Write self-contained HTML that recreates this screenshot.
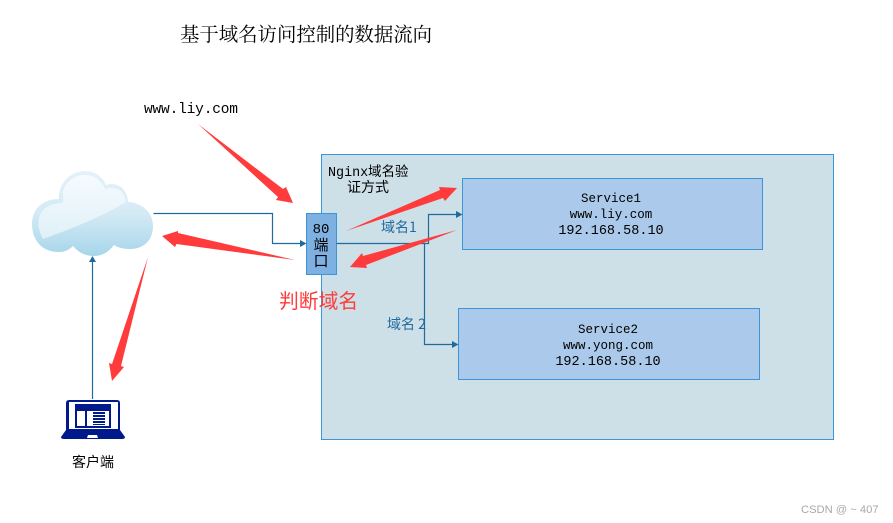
<!DOCTYPE html>
<html><head><meta charset="utf-8"><style>
html,body{margin:0;padding:0;background:#fff}
svg{display:block}
text{font-family:"Liberation Mono","Noto Serif CJK SC",monospace;fill:#000}
.m{text-anchor:middle}
</style></head><body>
<svg width="893" height="523" viewBox="0 0 893 523" xmlns="http://www.w3.org/2000/svg">
<defs>
<linearGradient id="c" x1="0" y1="0" x2="0" y2="1"><stop offset="0" stop-color="#e4f2f9"/><stop offset="0.5" stop-color="#d4eaf5"/><stop offset="1" stop-color="#a6d6ea"/></linearGradient>
<linearGradient id="g" x1="0" y1="0" x2="0" y2="1"><stop offset="0" stop-color="#f5fbfe"/><stop offset="1" stop-color="#e0f0f8"/></linearGradient>
</defs>
<rect x="321.500" y="154.500" width="512" height="285" fill="#cddfe7" stroke="#3a96d6"/>
<rect x="462.500" y="178.500" width="300" height="71" fill="#abc9ea" stroke="#3a96d6"/>
<rect x="458.500" y="308.500" width="301" height="71" fill="#abc9ea" stroke="#3a96d6"/>
<rect x="306.500" y="213.500" width="30" height="61" fill="#7fb0e2" stroke="#3a96d6"/>
<path d="M59 252C40 252 32 238 32 224C32 208 44 199 59 199C58 184 70 171 85 171C96 171 103 178 106 185C115 182 127 186 128 202C143 203 153 213 153 226C153 240 144 249 130 249C122 249 117 247 114 245C108 253 101 256 94 256C85 256 78 252 73 246C69 250 65 252 59 252Z" fill="url(#c)"/>
<path d="M43 239C34 222 38 204 62 203C64 202 63 198 63 194C63 183 74 175 85 175C96 175 102 182 105 189C115 186 125 190 126 202C110 212 80 226 43 239Z" fill="url(#g)"/>
<g fill="none" stroke="#1f6b9e" stroke-width="1.200">
<path d="M153.500 213.500H272.500V243.500H302"/>
<path d="M336.500 243.500H428.500V214.500H458"/>
<path d="M424.500 243.500V344.500H454"/>
<path d="M92.500 399V260"/>
</g>
<g fill="#1f6b9e">
<path d="M306.500 243.500L300 240V247Z"/>
<path d="M462.500 214.500L456 211V218Z"/>
<path d="M458.500 344.500L452 341V348Z"/>
<path d="M92.500 256L89 262H96Z"/>
</g>
<g fill="#ff3b3b">
<path d="M198 124L283 189L286 187L293 203L276 200L278 197Z"/>
<path d="M295 260L178 233L178 231L162 236L175 247L176.500 244Z"/>
<path d="M148 257L121 366L124 367L112 381L109 363L112 364Z"/>
<path d="M346 231L440 190L439 187L457 188L445 201L443 198Z"/>
<path d="M457 230L363 256L362 253L350 267L367 268L366 265Z"/>
</g>
<g fill="#001a8c">
<path d="M69 400H117Q120 400 120 403V430H66V403Q66 400 69 400Z"/>
<path d="M66 430H120L125 437Q125 439 122 439H64Q61 439 61 437Z"/>
</g>
<rect x="69" y="402" width="49" height="27" fill="#fff"/>
<rect x="75" y="404" width="36" height="24" fill="#001a8c"/>
<rect x="77" y="411" width="8" height="15" fill="#fff"/>
<rect x="87" y="411" width="22" height="15" fill="#fff"/>
<g fill="#001a8c"><rect x="93" y="412" width="12" height="2"/><rect x="93" y="415" width="12" height="2"/><rect x="93" y="418" width="12" height="2"/><rect x="93" y="421" width="12" height="2"/><rect x="93" y="424" width="12" height="1"/></g>
<path d="M88 435H97L98 438H87Z" fill="#fff"/>
<text x="180" y="41" font-size="19.400" style="font-family:'Noto Serif CJK SC',serif" fill="#222">基于域名访问控制的数据流向</text>
<text x="144" y="113" font-size="14.500" textLength="94">www.liy.com</text>
<text x="328" y="176" font-size="13.400" style="font-family:'Liberation Mono','Noto Sans CJK SC',monospace">Nginx域名验</text>
<text x="368" y="192" class="m" font-size="14" style="font-family:'Noto Sans CJK SC',sans-serif">证方式</text>
<text x="321" y="233" class="m" font-size="14">80</text>
<text x="321" y="250" class="m" font-size="15" style="font-family:'Noto Sans CJK SC',sans-serif">端</text>
<text x="321" y="266" class="m" font-size="15" style="font-family:'Noto Sans CJK SC',sans-serif">口</text>
<text x="381" y="232" font-size="14" style="fill:#1f6b9e;font-family:'Noto Sans CJK SC',sans-serif">域名1</text>
<text x="387" y="329" font-size="14" style="fill:#1f6b9e;font-family:'Noto Sans CJK SC',sans-serif">域名 2</text>
<text x="279" y="308" font-size="19.800" style="fill:#ff3b3b;font-family:'Noto Sans CJK SC',sans-serif">判断域名</text>
<text x="611" y="202" class="m" font-size="12.500">Service1</text>
<text x="611" y="218" class="m" font-size="12.500">www.liy.com</text>
<text x="611" y="234" class="m" font-size="13.500">192.168.58.10</text>
<text x="608" y="333" class="m" font-size="12.500">Service2</text>
<text x="608" y="349" class="m" font-size="12.500">www.yong.com</text>
<text x="608" y="365" class="m" font-size="13.500">192.168.58.10</text>
<text x="93" y="467" class="m" font-size="14" style="font-family:'Noto Sans CJK SC',sans-serif">客户端</text>
<text x="801" y="513" font-size="11.200" style="fill:#a8a8a8;font-family:'Liberation Sans',sans-serif">CSDN @ ~ 407</text>
</svg>
</body></html>
